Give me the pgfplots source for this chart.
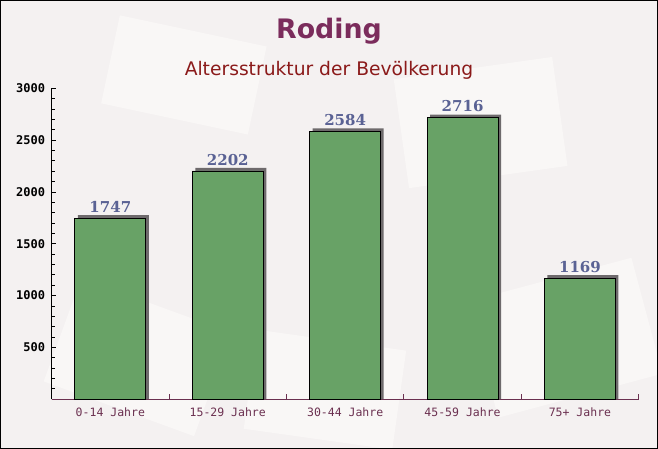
\documentclass[border=0pt]{standalone}
\usepackage{fontspec}
\setmainfont{DejaVu Sans}
\setmonofont{DejaVu Sans Mono}
\newfontfamily\valfont{DejaVu Serif}
\usepackage{pgfplots}
\pgfplotsset{compat=1.18}
\usepackage{pgfplotstable}
\definecolor{bg}{HTML}{F4F1F1}
\definecolor{bgl}{HTML}{F9F7F6}
\definecolor{barg}{HTML}{68A266}
\definecolor{shadowc}{HTML}{6E6A6C}
\definecolor{valc}{HTML}{5A6294}
\definecolor{titlec}{HTML}{7B2C5C}
\definecolor{subc}{HTML}{8B1A1A}
\definecolor{axc}{HTML}{6B3050}
\pgfplotstableread{
x v
0 1747
1 2202
2 2584
3 2716
4 1169
}\data
\begin{document}
\begin{tikzpicture}[x=1pt,y=1pt]
\fill[bg] (0,0) rectangle (658,449);
\begin{scope}
\clip (0,0) rectangle (658,449);
\fill[bgl, rotate around={-12:(180,380)}] (110,330) rectangle (260,420);
\fill[bgl, rotate around={8:(470,330)}] (400,270) rectangle (560,380);
\fill[bgl, rotate around={-20:(130,100)}] (60,40) rectangle (220,150);
\fill[bgl, rotate around={15:(560,110)}] (480,50) rectangle (650,170);
\fill[bgl, rotate around={-8:(320,60)}] (250,10) rectangle (400,110);
\end{scope}
\begin{axis}[at={(44,48)}, anchor=south west, scale only axis,
  width=587pt, height=311pt,
  xmin=-0.5, xmax=4.5, ymin=0, ymax=3000,
  axis x line=bottom, axis y line=left,
  axis line style={-},
  x axis line style={axc, line width=1pt},
  y axis line style={black, line width=1pt},
  /pgf/number format/1000 sep={},
  /pgf/number format/assume math mode=true,
  ytick={0,500,1000,1500,2000,2500,3000},
  yticklabels={,500,1000,1500,2000,2500,3000},
  minor y tick num=4,
  tick align=inside,
  major tick length=4pt, minor tick length=3pt,
  ytick style={black, line width=0.8pt},
  yticklabel style={font=\ttfamily\bfseries\fontsize{12}{12}\selectfont, text=black, xshift=-3pt},
  xtick={0,1,2,3,4},
  xticklabels={0-14 Jahre,15-29 Jahre,30-44 Jahre,45-59 Jahre,75+ Jahre},
  xticklabel style={font=\ttfamily\fontsize{11.5}{11.5}\selectfont, text=axc, yshift=-5pt},
  xtick style={draw=none},
  extra x ticks={0.5,1.5,2.5,3.5,4.5},
  extra x tick labels={},
  extra x tick style={xtick style={draw=axc, line width=0.8pt}, major tick length=5pt},
  clip=false,
]
\addplot[ybar, bar width=71pt, bar shift=3pt, fill=shadowc, draw=none]
  table[x=x, y expr=\thisrow{v}+29] {\data};
\addplot[ybar, bar width=71pt, bar shift=0pt, fill=barg, draw=black, line width=0.8pt,
  nodes near coords,
  every node near coord/.style={font=\valfont\bfseries\fontsize{15}{15}\selectfont, text=valc, anchor=south, yshift=2pt}]
  table[x=x, y=v] {\data};
\end{axis}
\node[font=\bfseries\fontsize{26.8}{27}\selectfont, text=titlec] at (329,418) {Roding};
\node[font=\fontsize{18.7}{19}\selectfont, text=subc] at (329,379) {Altersstruktur der Bevölkerung};
\draw[black, line width=1pt] (0.5,0.5) rectangle (657.5,448.5);
\end{tikzpicture}
\end{document}
